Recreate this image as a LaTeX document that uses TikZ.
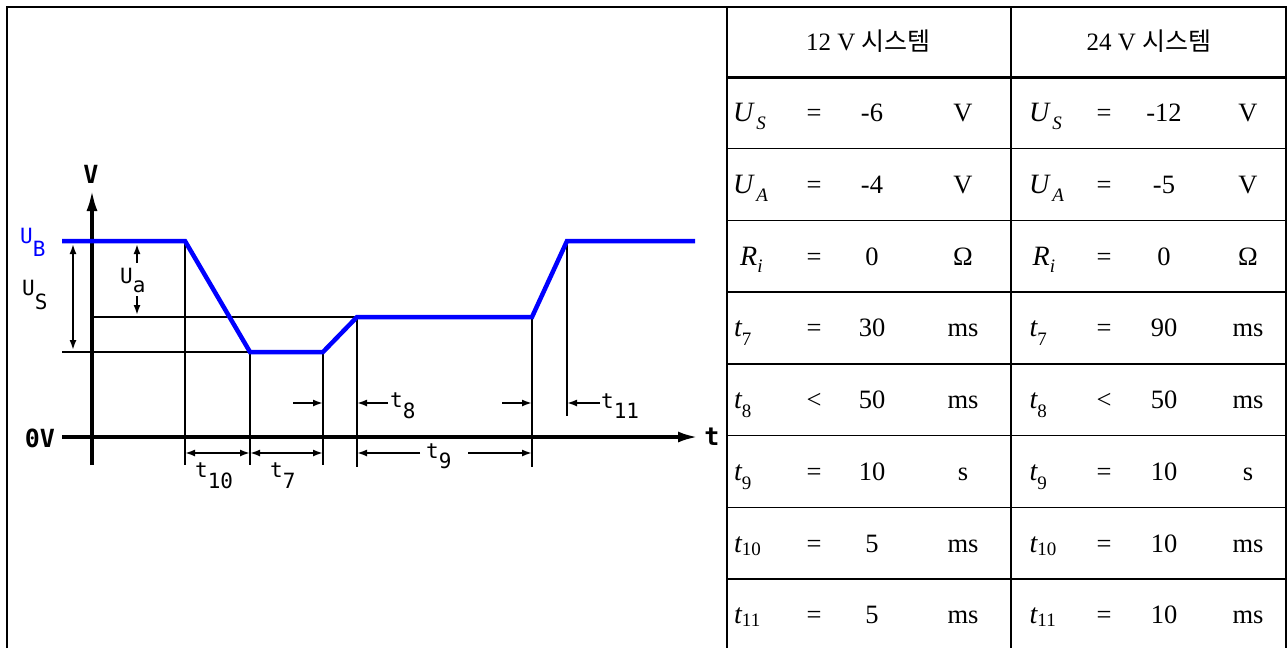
\documentclass[tikz,border=0pt]{standalone}
\usepackage{fontspec}
\setmainfont{Liberation Serif}
\newfontfamily\krfont{Noto Sans CJK KR}
\newfontfamily\dmfont{DejaVu Sans Mono}
\usetikzlibrary{arrows.meta}
\newcommand\symU[1]{{\fontsize{28}{28}\selectfont\itshape U}\hspace{3pt}\raisebox{-8pt}{\fontsize{19}{19}\selectfont\itshape #1}}
\newcommand\symR{{\fontsize{28}{28}\selectfont\itshape R}\raisebox{-7pt}{\fontsize{19}{19}\selectfont\itshape i}}
\newcommand\symT[2]{{\fontsize{28}{28}\selectfont\itshape t}\raisebox{-#2pt}{\fontsize{19}{19}\selectfont #1}}
\newcommand\dlab[3]{#1\raisebox{-#3pt}{#2}}
\begin{document}
\begin{tikzpicture}[x=1pt,y=-1pt,
  frameln/.style={line width=1.8pt},
  gridln/.style={line width=1.4pt},
  hdrln/.style={line width=3pt},
  axisln/.style={line width=3.5pt},
  sigln/.style={line width=4.5pt, blue},
  medln/.style={line width=2.6pt},
  thinln/.style={line width=1.3pt},
  dimln/.style={line width=1.8pt},
  darr/.style={dimln,-{Latex[length=10pt,width=7pt]}},
  ddarr/.style={dimln,{Latex[length=10pt,width=7pt]}-{Latex[length=10pt,width=7pt]}},
  lab/.style={inner sep=0pt, font=\dmfont\fontsize{21}{21}\selectfont},
  blab/.style={inner sep=0pt, font=\dmfont\bfseries\fontsize{25}{25}\selectfont},
  cell/.style={inner sep=0pt, font=\fontsize{26.5}{26.5}\selectfont},
  hdr/.style={inner sep=0pt, font=\fontsize{25}{25}\selectfont},
]
\useasboundingbox (0,0) rectangle (1287,648);
% ---------- frame and table grid ----------
\draw[frameln] (7,648) -- (7,7) -- (1286,7) -- (1286,648);
\draw[gridln] (727,7) -- (727,648);
\draw[gridln] (1011,7) -- (1011,648);
\draw[hdrln] (727,77) -- (1286,77);
\foreach \r in {1,...,7} \draw[gridln] (727,{77+71.7*\r}) -- (1286,{77+71.7*\r});
% ---------- header ----------
\node[hdr] (h1) at (868.5,41) {12 V {\krfont 시스템}};
\node[hdr] (h2) at (1149,41) {24 V {\krfont 시스템}};
% ---------- table rows ----------
\foreach \i/\sy/\rl/\va/\un/\vb/\ox in {
  1/{\symU{S}}/{=}/{-6}/{V}/{-12}/0,
  2/{\symU{A}}/{=}/{-4}/{V}/{-5}/0,
  3/{\symR}/{=}/{0}/{Ω}/{0}/7,
  4/{\symT{7}{9}}/{=}/{30}/{ms}/{90}/1,
  5/{\symT{8}{9}}/{<}/{50}/{ms}/{50}/1,
  6/{\symT{9}{9}}/{=}/{10}/{s}/{10}/1,
  7/{\symT{10}{3}}/{=}/{5}/{ms}/{10}/1,
  8/{\symT{11}{3}}/{=}/{5}/{ms}/{10}/1}{
  \pgfmathsetmacro\yb{77+71.7*(\i-0.5)+9}
  \node[cell,anchor=base west] (sl\i) at ({733+\ox},\yb) {\sy};
  \node[cell,anchor=base] (el\i) at (814,\yb) {\rl};
  \node[cell,anchor=base] (vl\i) at (872,\yb) {\va};
  \node[cell,anchor=base] (ul\i) at (963,\yb) {\un};
  \node[cell,anchor=base west] (sr\i) at ({1029+0.5*\ox},\yb) {\sy};
  \node[cell,anchor=base] (er\i) at (1104,\yb) {\rl};
  \node[cell,anchor=base] (vr\i) at (1164,\yb) {\vb};
  \node[cell,anchor=base] (ur\i) at (1248,\yb) {\un};
}
% ---------- diagram coordinates ----------
\coordinate (ub0) at (62,241);
\coordinate (ub1) at (185,241);
\coordinate (lo0) at (250,352);
\coordinate (lo1) at (323,352);
\coordinate (md0) at (357,317);
\coordinate (md1) at (532,317);
\coordinate (ub2) at (567,241);
\coordinate (ub3) at (695,241);
\coordinate (ya) at (92,465);
\coordinate (yz) at (92,190);
\coordinate (xa) at (62,437);
\coordinate (xz) at (698,437);
% ---------- thin reference lines ----------
\draw[thinln] (92,317) -- (md0);
\draw[thinln] (62,352) -- (lo0);
\draw[thinln] (lo0) -- (250,465);
\draw[thinln] (lo1) -- (323,465);
\draw[thinln] (md1) -- (532,467);
\draw[thinln] (ub2) -- (567,416);
\draw[medln] (ub1) -- (185,465);
\draw[medln] (md0) -- (357,467);
% ---------- axes ----------
\draw[axisln,-{Latex[length=21pt,width=11pt]}] (ya) -- (yz);
\draw[axisln,-{Latex[length=20pt,width=11pt]}] (xa) -- (xz);
\node[blab] (vlab) at (91,174) {V};
\node[blab] (zlab) at (40,438) {0V};
\node[blab] (tlab) at (712,437) {t};
% ---------- signal ----------
\draw[sigln] (ub0) -- (ub1) -- (lo0) -- (lo1) -- (md0) -- (md1) -- (ub2) -- (ub3);
\node[lab,blue,anchor=base west] (ublab) at (20,243) {\dlab{U}{B}{13}};
% ---------- voltage dimensions ----------
\draw[ddarr] (73,244) -- (73,350);
\node[lab,anchor=base west] (uslab) at (22,295) {\dlab{U}{S}{14}};
\draw[darr] (137,263) -- (137,244);
\draw[darr] (137,296) -- (137,315);
\node[lab,anchor=base west] (ualab) at (120,283) {\dlab{U}{a}{9}};
% ---------- time dimensions ----------
\draw[ddarr] (ub1 |- 0,453) -- (lo0 |- 0,453);
\draw[ddarr] (lo0 |- 0,453) -- (lo1 |- 0,453);
\node[lab,anchor=base west] (t10lab) at (195,477) {\dlab{t}{10}{11}};
\node[lab,anchor=base west] (t7lab) at (270,477) {\dlab{t}{7}{11}};
\coordinate (t9l) at (420,453);
\coordinate (t9r) at (468,453);
\draw[darr] (t9l) -- (md0 |- 0,453);
\draw[darr] (t9r) -- (md1 |- 0,453);
\node[lab,anchor=base west] (t9lab) at (426,458) {\dlab{t}{9}{10}};
\coordinate (a1) at (293,403);
\coordinate (a2) at (388,403);
\coordinate (a3) at (502,403);
\coordinate (a4) at (600,403);
\draw[darr] (a1) -- (lo1 |- a1);
\draw[darr] (a2) -- (md0 |- a2);
\draw[darr] (a3) -- (md1 |- a3);
\draw[darr] (a4) -- (ub2 |- a4);
\node[lab,anchor=base west] (t8lab) at (390,407) {\dlab{t}{8}{11}};
\node[lab,anchor=base west] (t11lab) at (601,408) {\dlab{t}{11}{10}};
\end{tikzpicture}
\end{document}
